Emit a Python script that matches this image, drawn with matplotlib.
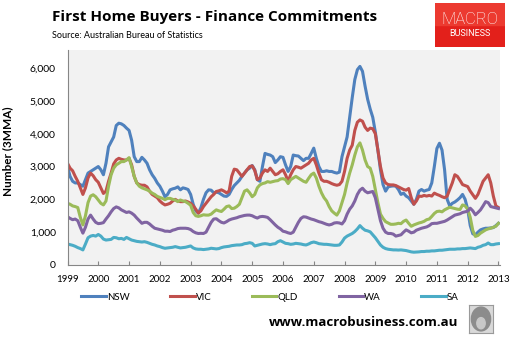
import numpy as np
import pandas as pd
import matplotlib.pyplot as plt
from matplotlib.patches import Rectangle, Ellipse

# Monthly series, Jan 1999 - Jan 2013 (3 month moving average)
nsw = [3000, 2700, 2550, 2500, 2500, 2450, 2400, 2600, 2800, 2850, 2900, 2950,
       3000, 2900, 2750, 3100, 3600, 3750, 3900, 4250, 4320, 4300, 4250, 4170,
       4100, 3800, 3300, 3150, 3150, 3280, 3200, 3100, 2900, 2750, 2640, 2500,
       2400, 2250, 2080, 2150, 2290, 2320, 2340, 2380, 2290, 2350, 2330, 2300,
       2150, 1850, 1650, 1580, 1750, 2000, 2200, 2290, 2280, 2200, 2220, 2200,
       2150, 2100, 2090, 2150, 2300, 2420, 2500, 2580, 2700, 2800, 2900, 2950,
       3030, 2900, 2600, 2550, 3000, 3400, 3370, 3350, 3300, 3120, 3200, 3300,
       3280, 3050, 2850, 3000, 3350, 3330, 3320, 3250, 3180, 3250, 3250, 3400,
       3560, 3250, 3000, 2850, 2850, 2870, 2850, 2850, 2820, 2800, 2830, 3300,
       3600, 3900, 4500, 5100, 5650, 5950, 6050, 5900, 5450, 5050, 4750, 4500,
       4050, 3500, 2900, 2450, 2250, 2380, 2400, 2410, 2400, 2300, 2150, 2190,
       2100, 2050, 1950, 1850, 2000, 2250, 2300, 2250, 2280, 2300, 2500, 3000,
       3550, 3710, 3500, 2900, 2000, 1800, 1880, 1920, 1980, 2050, 2150, 2000,
       1700, 1200, 950, 920, 1000, 1070, 1100, 1120, 1120, 1130, 1140, 1200,
       1270]
vic = [3100, 2950, 2870, 2700, 2550, 2350, 2150, 2350, 2650, 2800, 2720, 2600,
       2520, 2350, 2180, 2250, 2550, 2800, 3080, 3200, 3250, 3220, 3200, 3200,
       3250, 3050, 2700, 2500, 2450, 2430, 2430, 2380, 2250, 2150, 2100, 2050,
       1950, 1880, 1830, 1850, 1880, 1950, 2000, 1950, 1930, 1930, 1950, 1920,
       1880, 1800, 1700, 1580, 1650, 1780, 1880, 1980, 2080, 2150, 2240, 2260,
       2290, 2250, 2200, 2250, 2700, 2920, 2900, 2800, 2700, 2800, 2900, 3000,
       3020, 2880, 2600, 2650, 2800, 2900, 2850, 2950, 2850, 2750, 2780, 2850,
       2900, 2750, 2550, 2750, 2900, 3000, 2980, 2950, 3000, 3050, 3100, 3200,
       3250, 3050, 2800, 2600, 2550, 2550, 2520, 2480, 2450, 2430, 2450, 2550,
       2850, 3250, 3500, 3650, 4100, 4350, 4420, 4380, 4200, 4100, 4170, 4150,
       4000, 3500, 3000, 2650, 2500, 2450, 2440, 2440, 2420, 2380, 2340, 2300,
       2280, 2330, 2050, 1850, 1950, 2100, 2090, 2120, 2100, 2120, 2100, 2190,
       2150, 2120, 2080, 2050, 2100, 2300, 2500, 2750, 2700, 2580, 2450, 2420,
       2390, 2250, 2140, 2030, 2150, 2350, 2550, 2650, 2750, 2500, 2100, 1800,
       1750]
qld = [1880, 1850, 1800, 1780, 1750, 1450, 1220, 1500, 1900, 2100, 2140, 2080,
       1980, 1880, 1830, 1950, 2400, 2750, 2950, 3050, 3100, 3150, 3150, 3200,
       3270, 3000, 2700, 2500, 2400, 2350, 2320, 2290, 2250, 2190, 2150, 2090,
       2060, 2030, 1990, 2030, 2030, 2000, 1980, 1930, 1980, 1950, 1930, 1880,
       1820, 1600, 1500, 1480, 1500, 1530, 1520, 1520, 1550, 1620, 1680, 1650,
       1630, 1700, 1780, 1800, 1720, 1730, 1780, 1850, 2050, 2250, 2290, 2200,
       2080, 2150, 2350, 2440, 2480, 2500, 2540, 2520, 2540, 2560, 2570, 2620,
       2630, 2600, 2480, 2600, 2650, 2700, 2650, 2600, 2550, 2520, 2640, 2750,
       2800, 2650, 2400, 2200, 2050, 1950, 1780, 1650, 1580, 1520, 1650, 1900,
       2150, 2500, 2800, 3050, 3350, 3600, 3720, 3500, 3200, 3000, 2950, 2700,
       2300, 1900, 1550, 1420, 1320, 1280, 1240, 1240, 1250, 1270, 1260, 1330,
       1370, 1270, 1180, 1220, 1250, 1280, 1300, 1330, 1380, 1400, 1480, 1570,
       1630, 1640, 1620, 1680, 1720, 1760, 1740, 1720, 1700, 1690, 1830, 1800,
       1700, 1450, 1050, 870, 900, 970, 1020, 1070, 1100, 1120, 1150, 1180,
       1270]
wa = [1470, 1420, 1380, 1400, 1350, 1150, 970, 1150, 1400, 1520, 1400, 1300,
      1260, 1270, 1290, 1400, 1500, 1620, 1720, 1770, 1740, 1680, 1640, 1600,
      1620, 1580, 1520, 1430, 1350, 1270, 1300, 1300, 1250, 1180, 1120, 1100,
      1080, 1060, 1030, 1030, 1020, 1060, 1080, 1110, 1120, 1120, 1120, 1110,
      1080, 1020, 980, 960, 965, 960, 1000, 1150, 1300, 1400, 1410, 1350,
      1300, 1280, 1320, 1370, 1400, 1420, 1440, 1470, 1490, 1510, 1520, 1520,
      1500, 1460, 1430, 1470, 1480, 1470, 1450, 1380, 1300, 1220, 1150, 1100,
      1030, 1010, 980, 960, 1000, 1150, 1300, 1420, 1470, 1460, 1430, 1400,
      1380, 1350, 1320, 1300, 1270, 1240, 1220, 1240, 1280, 1290, 1280, 1250,
      1350, 1550, 1700, 1800, 1950, 2150, 2280, 2340, 2250, 2200, 2220, 2240,
      2050, 1700, 1350, 1120, 1000, 960, 960, 940, 880, 900, 920, 1000,
      1070, 1030, 980, 1000, 1060, 1090, 1120, 1140, 1160, 1200, 1260, 1270,
      1270, 1290, 1310, 1330, 1370, 1420, 1470, 1520, 1540, 1560, 1600, 1620,
      1640, 1730, 1650, 1530, 1600, 1680, 1800, 1930, 1900, 1780, 1760, 1740,
      1720]
sa = [640, 620, 600, 570, 530, 500, 460, 640, 830, 880, 900, 880,
      930, 880, 790, 760, 770, 780, 840, 830, 800, 810, 780, 840,
      800, 760, 740, 720, 710, 700, 710, 690, 660, 630, 610, 580,
      560, 530, 510, 520, 530, 540, 560, 540, 520, 530, 540, 560,
      580, 520, 490, 480, 480, 470, 480, 490, 510, 500, 490, 500,
      530, 550, 560, 570, 590, 600, 610, 610, 620, 650, 660, 680,
      660, 580, 600, 620, 640, 650, 640, 620, 640, 650, 710, 740,
      700, 660, 650, 630, 640, 660, 650, 640, 620, 610, 640, 680,
      700, 680, 650, 640, 630, 630, 620, 610, 600, 600, 610, 700,
      820, 880, 920, 960, 1020, 1100, 1200, 1120, 1060, 1040, 1010, 920,
      830, 720, 610, 540, 500, 480, 470, 460, 460, 455, 460, 450,
      440, 420, 400, 390, 395, 400, 410, 410, 420, 420, 430, 430,
      440, 450, 450, 460, 470, 480, 480, 480, 490, 490, 500, 500,
      510, 520, 510, 500, 540, 560, 600, 620, 670, 620, 620, 640,
      650]

states = ["NSW", "VIC", "QLD", "WA", "SA"]
colors = ["#4F81BD", "#C0504D", "#9BBB59", "#8064A2", "#4BACC6"]
years = list(range(1999, 2014))

df = pd.DataFrame({"NSW": nsw, "VIC": vic, "QLD": qld, "WA": wa, "SA": sa})
months = np.arange(len(df))

W, H = 515, 341
fig = plt.figure(figsize=(W / 100, H / 100), dpi=100)
fig.patch.set_facecolor("white")
plt.rcParams["font.family"] = ["Lato", "DejaVu Sans"]

ax = fig.add_axes([67.5 / W, 1 - 265 / H, (500 - 67.5) / W, (265 - 50) / H])
ax.set_facecolor("#F2F2F2")
for name, c in zip(states, colors):
    ax.plot(months, df[name], color=c, lw=2.2, label=name, solid_joinstyle="round")

ax.set_xlim(0, 168.6)
ax.set_ylim(0, 6550)
ax.set_xticks([(y - 1999) * 12 for y in years])
ax.set_xticklabels([str(y) for y in years], fontsize=7)
ax.set_yticks(range(0, 7000, 1000))
ax.set_yticklabels([f"{v:,}" for v in range(0, 7000, 1000)], fontsize=7.5)
ax.tick_params(axis="x", direction="in", length=3, color="#868686", pad=7)
ax.tick_params(axis="y", length=0, pad=8.5)
for s in ["top", "right"]:
    ax.spines[s].set_visible(False)
for s in ["left", "bottom"]:
    ax.spines[s].set_color("#868686")
    ax.spines[s].set_linewidth(0.8)
ax.set_ylabel("Number (3MMA)", fontsize=8.5, fontweight="bold", labelpad=6)
ax.yaxis.set_label_coords(-54.5 / 432.5, 0.53)

fig.legend(loc="center", bbox_to_anchor=(270 / W, 1 - 297 / H), ncol=5,
           frameon=False, fontsize=7, handlelength=2.5, handletextpad=0.1,
           columnspacing=4.2)

# header
fig.text(52 / W, 1 - 17 / H, "First Home Buyers - Finance Commitments",
         fontsize=11, fontweight="bold", va="center", ha="left",
         family=["Open Sans", "DejaVu Sans"])
fig.text(52 / W, 1 - 35 / H, "Source: Australian Bureau of Statistics",
         fontsize=6.5, va="center", ha="left")

# logo box
logo = fig.add_axes([435 / W, 1 - 47 / H, 70 / W, 44 / H])
logo.set_xlim(0, 1)
logo.set_ylim(0, 1)
logo.axis("off")
logo.add_patch(Rectangle((0, 0), 1, 1, color="#E3201B"))
logo.add_patch(Rectangle((0, 0.5), 1, 0.5, color="#EC3A30"))
logo.text(0.5, 0.62, "MACRO", color="white", fontsize=12, ha="center", va="center",
          family=["Roboto", "DejaVu Sans"], fontweight="light")
logo.text(0.5, 0.3, "BUSINESS", color="white", fontsize=6.5, ha="center", va="center",
          family=["Roboto", "DejaVu Sans"])

# footer
fig.text(458 / W, 1 - 322 / H, "www.macrobusiness.com.au", fontsize=9.5,
         fontweight="bold", ha="right", va="center",
         family=["Open Sans", "DejaVu Sans"])
wolf = fig.add_axes([469 / W, 1 - 333 / H, 24 / W, 28 / H])
wolf.set_xlim(0, 1)
wolf.set_ylim(0, 1)
wolf.set_xticks([])
wolf.set_yticks([])
for s in wolf.spines.values():
    s.set_color("#9A9A9A")
wolf.set_facecolor("#D9D9D9")
wolf.add_patch(Ellipse((0.5, 0.5), 0.8, 0.85, color="#8C8C8C"))
wolf.add_patch(Ellipse((0.5, 0.35), 0.35, 0.4, color="#C8C8C8"))

fig.savefig("out.png", dpi=100)
